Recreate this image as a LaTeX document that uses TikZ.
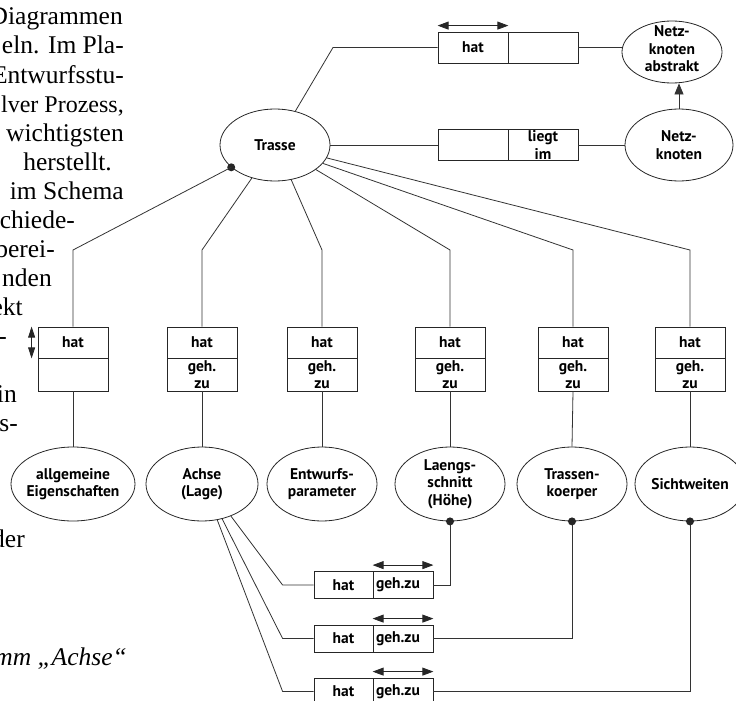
\documentclass[tikz,border=0pt]{standalone}
\usepackage{fontspec}
\setmainfont{Liberation Serif}
\newfontfamily\diafont{PT Sans}
\usetikzlibrary{shapes.geometric,arrows.meta,calc}

\begin{document}
\begin{tikzpicture}[x=1pt,y=-1pt,
  line/.style={draw=black!80,line width=0.8pt},
  dfont/.style={font=\diafont\bfseries\fontsize{15.5}{17.5}\selectfont},
  lbl/.style={dfont,align=center,inner sep=0pt},
  ell/.style={ellipse,draw=black!85,line width=0.8pt,inner sep=0pt,minimum height=74pt,minimum width=110pt},
  cell/.style={rectangle,draw=black!85,line width=0.8pt,inner sep=0pt,minimum width=70pt,dfont,align=center},
  rolecell/.style={cell,minimum height=27pt},
  leftcell/.style={cell,minimum height=27pt,inner xsep=3pt,text width=54pt,align=left,minimum width=60pt},
  body/.style={font=\fontsize{25.5}{29}\selectfont,anchor=base east,inner sep=0pt},
  tip/.style={-{Triangle[length=11pt,width=9pt]}},
  dtip/.style={{Triangle[length=11pt,width=8pt]}-{Triangle[length=11pt,width=8pt]}},
  vtip/.style={{Triangle[length=11pt,width=7pt]}-{Triangle[length=11pt,width=7pt]}},
  dot/.style={circle,fill=black!85,inner sep=0pt,minimum size=8pt}
]
\useasboundingbox (0,0) rectangle (736,701);
\clip (0,0) rectangle (736,701);

% running text of the page, cut off by the figure
\node[body] (t0)  at (123,25)  {Diagrammen};
\node[body] (t1)  at (124,54)  {eln. Im Pla-};
\node[body] (t2)  at (124,83)  {Entwurfsstu-};
\node[body,font=\fontsize{24}{29}\selectfont] (t3)  at (124,112) {lver Prozess,};
\node[body] (t4)  at (124,141) {wichtigsten};
\node[body] (t5)  at (112,170) {herstellt.};
\node[body] (t6)  at (124,199) {im Schema};
\node[body] (t7)  at (75,228)  {chiede-};
\node[body] (t8)  at (55,257)  {berei-};
\node[body] (t9)  at (52,286)  {nden};
\node[body] (t10) at (23,315)  {ekt};
\node[body] (t11) at (7,344)   {-};
\node[body] (t12) at (17,402)  {in};
\node[body] (t13) at (18,431)  {ns-};
\node[body] (t14) at (25,547)  {der};
\node[body,font=\fontsize{25.5}{29}\selectfont\itshape] (t15) at (127,665) {amm „Achse“};

% central entity and network nodes
\node[ell,minimum width=110pt,minimum height=72pt] (T) at (275,145) {};
\node[lbl] (Tl) at (T) {Trasse};
\node[ell,minimum width=100pt,minimum height=62pt] (NA) at (672,52) {};
\node[lbl] (NAl) at ([yshift=3pt]NA.center) {Netz-\\knoten\\abstrakt};
\node[ell,minimum width=108pt,minimum height=72pt] (NK) at (679,145) {};
\node[lbl] (NKl) at (NK) {Netz-\\knoten};

% relation boxes of the upper rows
\node[cell,minimum height=31pt] (hA) at (473,47.5) {hat};
\node[cell,minimum height=31pt] (hB) at (543,47.5) {};
\node[cell,minimum height=31pt] (lA) at (473,145) {};
\node[cell,minimum height=31pt] (lB) at (543,145) {liegt\\im};

% relation boxes of the columns
\node[cell,minimum height=31pt] (h1) at (73,342.5) {hat};
\node[cell,minimum height=33pt] (g1) at (73,374.5) {};
\foreach \n/\x in {2/202,3/322,4/450,5/573,6/690}{
  \node[cell,minimum height=31pt] (h\n) at (\x,342.5) {hat};
  \node[cell,minimum height=33pt] (g\n) at (\x,374.5) {geh.\\[-1pt]zu};
}

% entities of the lower row
\node[ell,minimum width=124pt] (E1) at (73,484) {};
\node[lbl] (E1l) at (E1) {allgemeine\\Eigenschaften};
\node[ell,minimum width=112pt] (E2) at (202,484) {};
\node[lbl] (E2l) at (E2) {Achse\\(Lage)};
\node[ell] (E3) at (322,484) {};
\node[lbl] (E3l) at (E3) {Entwurfs-\\parameter};
\node[ell] (E4) at (450,484) {};
\node[lbl] (E4l) at (E4) {Laengs-\\schnitt\\(Höhe)};
\node[ell] (E5) at (572,484) {};
\node[lbl] (E5l) at (E5) {Trassen-\\koerper};
\node[ell] (E6) at (690,484) {};
\node[lbl] (E6l) at (E6) {Sichtweiten};

% relation boxes of the axis
\foreach \n/\y in {1/585,2/638.5,3/691.5}{
  \node[rolecell,minimum width=59pt] (r\n h) at (343.5,\y) {hat};
  \node[leftcell] (r\n g) at (403,\y) {geh.zu};
  \draw[dtip,black!85,line width=0.8pt] ([yshift=6pt]r\n g.north west) -- ([yshift=6pt]r\n g.north east);
}

% reading-direction arrows
\draw[dtip,black!85,line width=0.8pt] ([yshift=6pt]hA.north west) -- ([yshift=6pt]hA.north east);
\draw[vtip,black!85,line width=0.8pt] ([xshift=-6pt]h1.north west) -- ([xshift=-6pt]h1.south west);

% connectors of the upper rows
\draw[line] (T.59) -- (hA.west -| 333,0) -- (hA.west);
\draw[line] (hB.east) -- (hB.east -| NA.west);
\draw[line] (T.east) -- (lA.west);
\draw[line] (lB.east) -- (NK.west);
\draw[line,tip] (NK.north) -- (NK.north |- NA.south);

% fan from Trasse to the columns
\node[dot] (d0) at (T.207) {};
\draw[line] (d0.center) -- (h1.north |- 0,250) -- (h1.north);
\draw[line] (T.235) -- (h2.north |- 0,250) -- (h2.north);
\draw[line] (T.295) -- (h3.north |- 0,250) -- (h3.north);
\draw[line] (T.329) -- (h4.north |- 0,250) -- (h4.north);
\draw[line] (T.339) -- (h5.north |- 0,250) -- (h5.north);
\draw[line] (T.346) -- (h6.north |- 0,250) -- (h6.north);
\foreach \n in {1,...,6}{
  \draw[line] (g\n.south) -- (E\n.north);
}

% axis relations
\draw[line] (E2.312) -- ([xshift=-31pt]r1h.west) -- (r1h.west);
\draw[line] (E2.300) -- ([xshift=-31pt]r2h.west) -- (r2h.west);
\draw[line] (E2.293) -- ([xshift=-31pt]r3h.west) -- (r3h.west);
\draw[line] (r1g.east) -| (E4.south);
\draw[line] (r2g.east) -| (E5.south);
\draw[line] (r3g.east) -| (E6.south);
\node[dot] (d4) at (E4.south) {};
\node[dot] (d5) at (E5.south) {};
\node[dot] (d6) at (E6.south) {};
\end{tikzpicture}
\end{document}
